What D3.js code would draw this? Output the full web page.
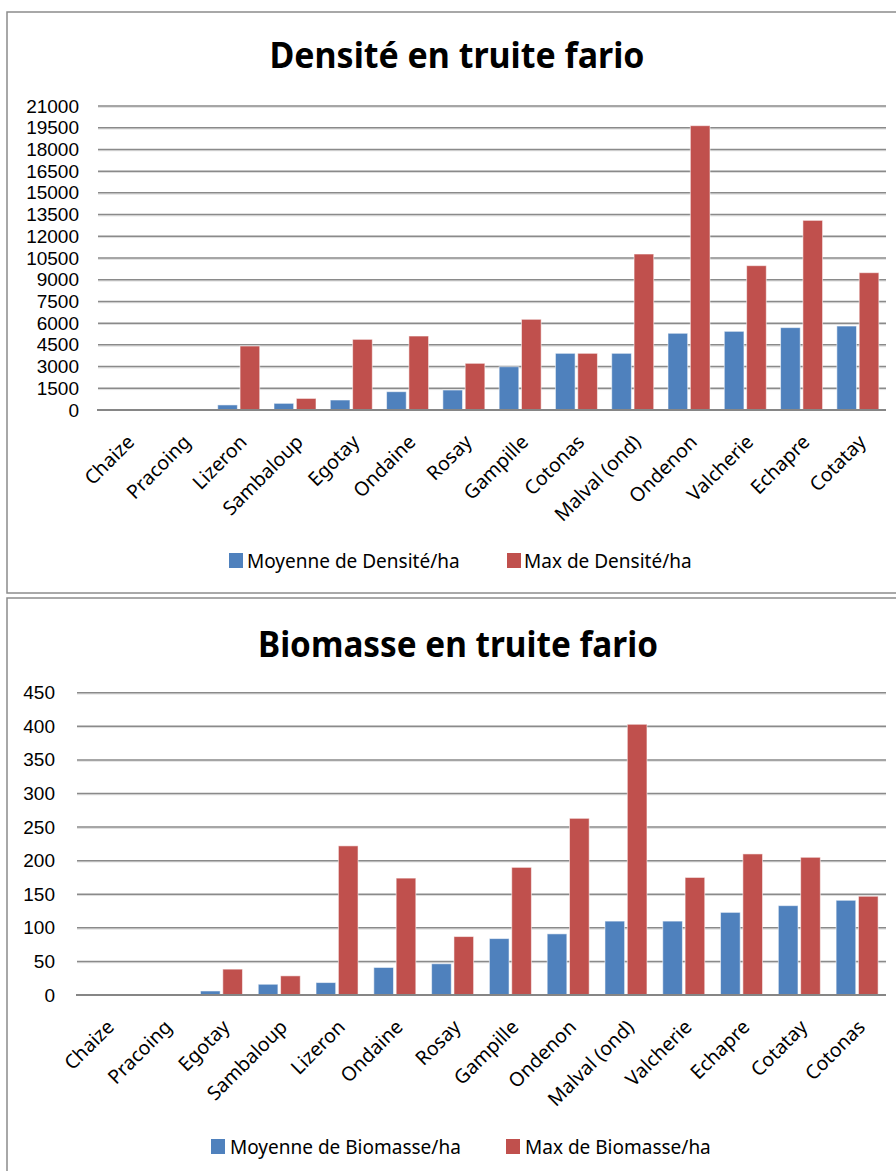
<!DOCTYPE html>
<html><head><meta charset="utf-8">
<script src="https://cdn.jsdelivr.net/npm/d3@7"></script>
<style>
html,body{margin:0;padding:0;background:#fff;}
svg{display:block;font-family:"Noto Sans","Open Sans",sans-serif;}
</style></head>
<body>
<svg id="c" width="896" height="1171"></svg>
<script>
// ---- Data ----
const densCategories = ["Chaize","Pracoing","Lizeron","Sambaloup","Egotay","Ondaine","Rosay","Gampille","Cotonas","Malval (ond)","Ondenon","Valcherie","Echapre","Cotatay"];
const densMean = [0,0,350,460,690,1265,1380,2990,3915,3915,5300,5435,5690,5800];
const densMax  = [0,0,4420,800,4880,5110,3225,6265,3915,10775,19640,9970,13100,9485];
const densTicks = [0,1500,3000,4500,6000,7500,9000,10500,12000,13500,15000,16500,18000,19500,21000];

const bioCategories = ["Chaize","Pracoing","Egotay","Sambaloup","Lizeron","Ondaine","Rosay","Gampille","Ondenon","Malval (ond)","Valcherie","Echapre","Cotatay","Cotonas"];
const bioMean = [0,0,6,16,18.5,41,46.5,84,91,110,110,123,133,141];
const bioMax  = [0,0,38.5,28.5,222,174,87,190,263,403,175,210,205,147];
const bioTicks = [0,50,100,150,200,250,300,350,400,450];

const seriesKeys = ["mean","max"];
const colors = {mean:"#4F81BD", max:"#C0504D"};

const svg = d3.select("#c");

function drawChart(o){
  const g = svg.append("g");
  // frame
  g.append("rect").attr("x",o.box[0]).attr("y",o.box[1])
    .attr("width",o.box[2]-o.box[0]).attr("height",o.box[3]-o.box[1])
    .attr("fill","#fff").attr("stroke","#8c8c8c").attr("stroke-width",1.5);
  // title
  g.append("text").attr("x",o.titleX).attr("y",o.titleY)
    .attr("text-anchor","middle").attr("font-weight","bold").attr("font-size",35)
    .attr("textLength",o.titleW).attr("lengthAdjust","spacingAndGlyphs")
    .attr("fill","#000").text(o.title);

  const x = d3.scaleBand().domain(o.cats).range([o.x0,o.x1]).paddingInner(0).paddingOuter(0);
  const y = d3.scaleLinear().domain([0,d3.max(o.ticks)]).range([o.y0,o.y1]);
  const half = 21;
  const xs = d3.scaleBand().domain(seriesKeys).range([-half,half]).paddingInner(0.12);

  // gridlines
  o.ticks.filter(t=>t>0).forEach(t=>{
    g.append("line").attr("x1",o.x0).attr("x2",o.x1).attr("y1",y(t)+1.3).attr("y2",y(t)+1.3)
      .attr("stroke","#dcdcdc").attr("stroke-width",1);
    g.append("line").attr("x1",o.x0).attr("x2",o.x1).attr("y1",y(t)).attr("y2",y(t))
      .attr("stroke","#8a8a8a").attr("stroke-width",1.5);
  });

  // y axis labels
  const ya = d3.axisLeft(y).tickValues(o.ticks).tickSize(0).tickPadding(0).tickFormat(d3.format("d"));
  const yg = g.append("g").attr("transform",`translate(${o.labelRight},0)`).call(ya);
  yg.select(".domain").remove();
  yg.selectAll("text").attr("font-size",19).attr("fill","#000")
    .attr("font-family","'Liberation Sans', Arial, sans-serif");

  // bars
  const rows = o.cats.map((c,i)=>({cat:c, mean:o.mean[i], max:o.max[i]}));
  const grp = g.selectAll(".grp").data(rows).join("g")
    .attr("transform",d=>`translate(${x(d.cat)+x.bandwidth()/2},0)`);
  grp.selectAll("rect").data(d=>seriesKeys.map(k=>({k, v:d[k]})).filter(e=>e.v>0)).join("rect")
    .attr("x",e=>xs(e.k)).attr("width",xs.bandwidth())
    .attr("y",e=>y(e.v)).attr("height",e=>y(0)-y(e.v))
    .attr("fill",e=>colors[e.k]).attr("stroke","#ffffff").attr("stroke-opacity",0.55).attr("stroke-width",1);

  // baseline axis
  g.append("line").attr("x1",o.x0-1).attr("x2",o.x1).attr("y1",y(0)).attr("y2",y(0))
    .attr("stroke","#868686").attr("stroke-width",2.2);

  // x labels
  const xa = d3.axisBottom(x).tickSize(0).tickPadding(0);
  const xg = g.append("g").attr("transform",`translate(0,${o.y0})`).call(xa);
  xg.select(".domain").remove();
  xg.selectAll(".tick text")
    .attr("font-size",19.5).attr("fill","#000").attr("font-family","Noto Sans")
    .attr("text-anchor","end").attr("dy",null).attr("y",null)
    .attr("transform","translate(4,28) rotate(-45)")
    .attr("dominant-baseline","central");

  // legend
  const lg = g.append("g");
  o.legend.forEach(L=>{
    lg.append("rect").attr("x",L.sx).attr("y",o.legY-15).attr("width",14).attr("height",15).attr("fill",L.color);
    lg.append("text").attr("x",L.tx).attr("y",o.legY).attr("font-size",19).attr("fill","#000").text(L.label);
  });
}

drawChart({
  box:[7,12,902,593],
  title:"Densité en truite fario", titleX:457, titleY:68, titleW:375,
  cats:densCategories, mean:densMean, max:densMax, ticks:densTicks,
  x0:98, x1:886, y0:410, y1:106, labelRight:79,
  legY:568,
  legend:[{sx:229,tx:247,color:colors.mean,label:"Moyenne de Densité/ha"},
          {sx:507,tx:524,color:colors.max,label:"Max de Densité/ha"}]
});

drawChart({
  box:[7,598,902,1178],
  title:"Biomasse en truite fario", titleX:458, titleY:657, titleW:400,
  cats:bioCategories, mean:bioMean, max:bioMax, ticks:bioTicks,
  x0:77, x1:886, y0:995, y1:692.7, labelRight:55,
  legY:1154,
  legend:[{sx:211,tx:230,color:colors.mean,label:"Moyenne de Biomasse/ha"},
          {sx:506,tx:525,color:colors.max,label:"Max de Biomasse/ha"}]
});
</script>
</body></html>
